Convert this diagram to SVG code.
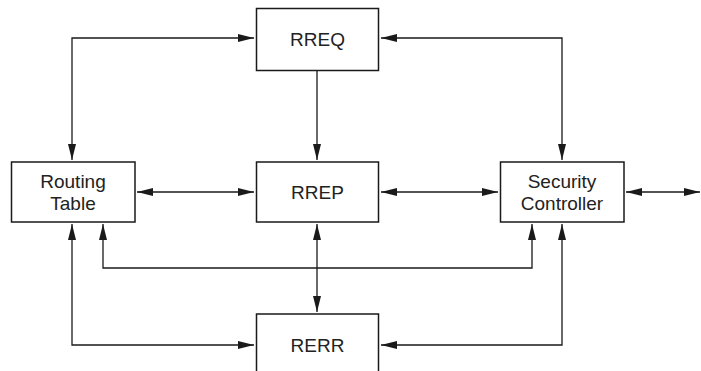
<svg xmlns="http://www.w3.org/2000/svg" width="701" height="371" viewBox="0 0 701 371">
  <style>
    .box { fill: #ffffff; stroke: #1a1a1a; stroke-width: 1.5; }
    .lbl { font-family: "Liberation Sans", Arial, sans-serif; font-size: 19px; fill: #222222; text-anchor: middle; }
    .wire { fill: none; stroke: #1a1a1a; stroke-width: 1.3; }
    .both { marker-start: url(#head); marker-end: url(#head); }
    .one { marker-end: url(#head); }
  </style>
  <defs>
    <marker id="head" markerUnits="userSpaceOnUse" markerWidth="16" markerHeight="8" refX="16" refY="4" orient="auto-start-reverse">
      <path d="M0,0 L16,4 L0,8 Z" fill="#1a1a1a"/>
    </marker>
  </defs>
  <rect width="701" height="371" fill="#ffffff"/>

  <g id="connectors">
    <path class="wire both" d="M72,160 V38 H254"/>
    <path class="wire both" d="M381,38 H562 V160"/>
    <path class="wire one" d="M317,71 V160"/>
    <path class="wire both" d="M137,192 H254"/>
    <path class="wire both" d="M381,192 H498"/>
    <path class="wire both" d="M626,192 H700"/>
    <path class="wire both" d="M103,224 V268 H532 V224"/>
    <path class="wire both" d="M317,224 V312"/>
    <path class="wire both" d="M72,224 V345 H254"/>
    <path class="wire both" d="M562,224 V345 H381"/>
  </g>

  <g id="rreq">
    <rect class="box" x="256.5" y="8.5" width="122" height="62"/>
    <text class="lbl" x="317.5" y="46">RREQ</text>
  </g>
  <g id="routing-table">
    <rect class="box" x="11.5" y="162" width="123.5" height="60"/>
    <text class="lbl" x="73" y="187.5">Routing</text>
    <text class="lbl" x="73" y="210">Table</text>
  </g>
  <g id="rrep">
    <rect class="box" x="256.5" y="162" width="122" height="60"/>
    <text class="lbl" x="317.5" y="199">RREP</text>
  </g>
  <g id="security-controller">
    <rect class="box" x="500.5" y="162" width="123.5" height="60"/>
    <text class="lbl" x="562" y="187.5">Security</text>
    <text class="lbl" x="562" y="210">Controller</text>
  </g>
  <g id="rerr">
    <rect class="box" x="256.5" y="314" width="122" height="62"/>
    <text class="lbl" x="317.5" y="352">RERR</text>
  </g>
</svg>
